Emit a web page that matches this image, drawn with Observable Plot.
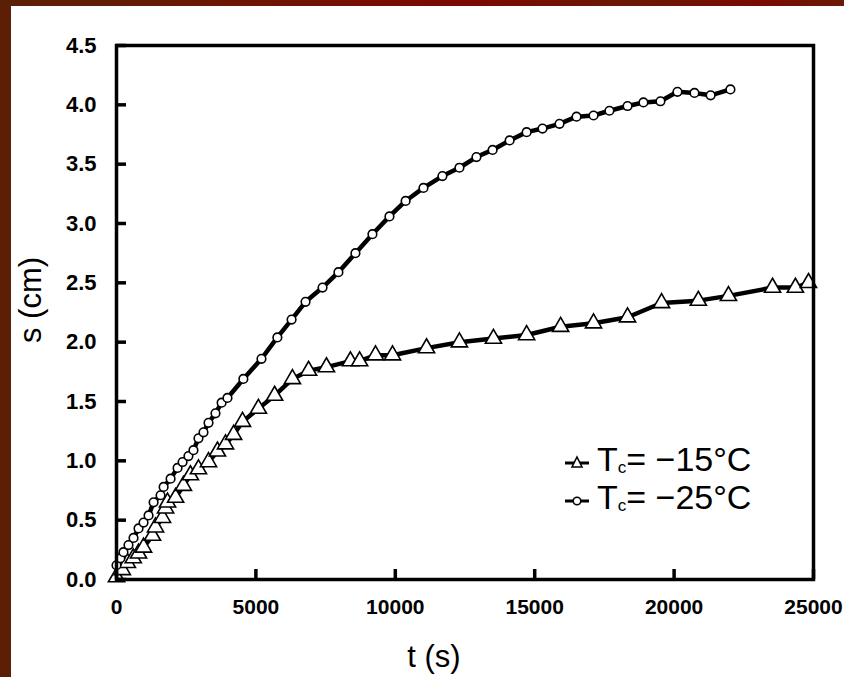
<!DOCTYPE html>
<html>
<head>
<meta charset="utf-8">
<script src="https://cdn.jsdelivr.net/npm/d3@7"></script>
<script src="https://cdn.jsdelivr.net/npm/@observablehq/plot@0.6"></script>
<style>
  html, body { margin: 0; padding: 0; }
  body { width: 844px; height: 677px; position: relative; overflow: hidden;
         background: #5c1f05; font-family: "Liberation Sans", Arial, sans-serif; }
  #topbar { position: absolute; left: 0; top: 0; width: 844px; height: 6px;
            background: linear-gradient(to right, #5a2005, #6e1502 30%, #7c0800 55%, #6a1804 75%, #7a0a00 90%, #6a1a04); }
  #paper { position: absolute; left: 11px; top: 6px; width: 833px; height: 671px; background: #fff; }
  #chart { position: absolute; left: 0; top: 0; }
  .axtitle { position: absolute; font-size: 31px; color: #000; white-space: nowrap; }
  #ylab { left: 31px; top: 300px; transform: translate(-50%, -50%) rotate(-90deg); }
  #xlab { left: 434px; top: 657px; transform: translate(-50%, -50%); }
  #legend { position: absolute; left: 565px; top: 444px; font-size: 34px; line-height: 38px; }
  .row { display: flex; align-items: center; height: 38px; }
  .row svg { margin-right: 8px; }
  sub { font-size: 17px; vertical-align: -2px; }
</style>
</head>
<body>
<div id="topbar"></div>
<div id="paper"></div>
<div id="chart"></div>
<div class="axtitle" id="ylab">s (cm)</div>
<div class="axtitle" id="xlab">t (s)</div>
<div id="legend"></div>
<script>
// Series: T_c = -15 °C (triangles)
const t15 = [0, 210, 390, 600, 790, 970, 1290, 1400, 1650, 1760, 1830, 2120, 2400, 2650, 2940, 3300, 3620, 3910, 4200, 4520, 5090, 5670, 6310, 6890, 7530, 8390, 8720, 9290, 9900, 11120, 12300, 13520, 14710, 15930, 17110, 18330, 19550, 20870, 21950, 23530, 24350, 24820];
const s15 = [0.02, 0.08, 0.14, 0.18, 0.22, 0.27, 0.37, 0.44, 0.52, 0.60, 0.65, 0.69, 0.79, 0.88, 0.93, 0.99, 1.08, 1.14, 1.22, 1.33, 1.44, 1.55, 1.69, 1.76, 1.79, 1.84, 1.84, 1.89, 1.89, 1.95, 2.00, 2.03, 2.06, 2.13, 2.16, 2.21, 2.33, 2.35, 2.39, 2.46, 2.46, 2.50];
// Series: T_c = -25 °C (circles)
const t25 = [0, 140, 250, 430, 610, 790, 970, 1150, 1330, 1580, 1690, 1940, 2190, 2370, 2580, 2760, 2940, 3120, 3300, 3550, 3770, 3980, 4550, 5200, 5770, 6280, 6780, 7390, 7960, 8570, 9180, 9790, 10370, 11010, 11690, 12300, 12910, 13490, 14100, 14710, 15280, 15890, 16500, 17110, 17680, 18330, 18900, 19510, 20120, 20730, 21310, 22020];
const s25 = [0.12, 0.18, 0.23, 0.29, 0.35, 0.43, 0.48, 0.54, 0.65, 0.71, 0.78, 0.85, 0.94, 0.99, 1.04, 1.09, 1.19, 1.24, 1.32, 1.40, 1.49, 1.53, 1.69, 1.86, 2.04, 2.19, 2.34, 2.46, 2.59, 2.75, 2.91, 3.06, 3.19, 3.30, 3.40, 3.47, 3.56, 3.62, 3.70, 3.77, 3.80, 3.84, 3.90, 3.91, 3.95, 3.99, 4.02, 4.03, 4.11, 4.10, 4.08, 4.13];
const seriesLabels = ["−15", "−25"];
const xTicks = [0, 5000, 10000, 15000, 20000, 25000];
const yTicks = [0.0, 0.5, 1.0, 1.5, 2.0, 2.5, 3.0, 3.5, 4.0, 4.5];

const d15 = t15.map((t, i) => ({t, s: s15[i]}));
const d25 = t25.map((t, i) => ({t, s: s25[i]}));

const W = 844, H = 677, ML = 116, MR = 31, MT = 45, MB = 98, TICK = 10;

const plot = Plot.plot({
  width: W, height: H,
  marginLeft: ML, marginRight: MR, marginTop: MT, marginBottom: MB,
  style: { background: "transparent", color: "#000", overflow: "visible" },
  x: { domain: [0, 25000] },
  y: { domain: [0, 4.5] },
  marks: [
    Plot.axisX({ ticks: xTicks, tickSize: 0, tickPadding: 20, label: null,
                 tickFormat: d => String(d), fontSize: 21, fontWeight: "bold",
                 fontFamily: "'Liberation Sans Narrow', 'Liberation Sans', Arial, sans-serif" }),
    Plot.axisY({ ticks: yTicks, tickSize: 0, tickPadding: 20, label: null,
                 tickFormat: d => d.toFixed(1), fontSize: 22, fontWeight: "bold",
                 fontFamily: "'Liberation Sans', Arial, sans-serif" }),
    Plot.line(d15, { x: "t", y: "s", stroke: "#000", strokeWidth: 4.5 }),
    Plot.line(d25, { x: "t", y: "s", stroke: "#000", strokeWidth: 4.5 }),
    Plot.dot(d15, { x: "t", y: "s", symbol: "triangle", r: 6, fill: "#fff", stroke: "#000", strokeWidth: 1.6 }),
    Plot.dot(d25, { x: "t", y: "s", symbol: "circle", r: 4.3, fill: "#fff", stroke: "#000", strokeWidth: 1.6 }),
    Plot.frame({ stroke: "#000", strokeWidth: 3.5 }),
    // inward tick marks
    Plot.tickX(xTicks, { x: d => d, stroke: "#000", strokeWidth: 3.5, insetTop: (H - MT - MB) - TICK }),
    Plot.tickY(yTicks, { y: d => d, stroke: "#000", strokeWidth: 3.5, insetRight: (W - ML - MR) - TICK })
  ]
});
document.getElementById("chart").appendChild(plot);

// Legend
const legend = document.getElementById("legend");
const symbols = [
  '<polygon points="12,4 17,14 7,14" fill="#fff" stroke="#000" stroke-width="1.6"/>',
  '<circle cx="12" cy="10" r="3.8" fill="#fff" stroke="#000" stroke-width="1.6"/>'
];
seriesLabels.forEach((lab, i) => {
  const row = document.createElement("div");
  row.className = "row";
  row.innerHTML = `<svg width="24" height="20"><line x1="0" y1="10" x2="24" y2="10" stroke="#000" stroke-width="3"/>${symbols[i]}</svg>` +
    `<span>T<sub>c</sub>= ${lab}°C</span>`;
  legend.appendChild(row);
});
</script>
</body>
</html>
